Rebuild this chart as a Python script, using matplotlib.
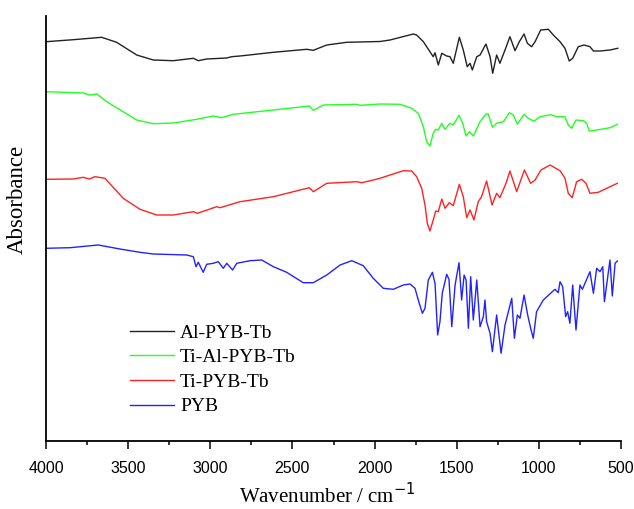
import matplotlib
matplotlib.use("Agg")
import matplotlib.pyplot as plt
from matplotlib.ticker import MultipleLocator

# wavenumber (cm-1) / absorbance (offset a.u.)
al_w = [4000, 3834, 3661, 3570, 3448, 3347, 3225, 3103, 3073, 3022, 2900, 2870, 2819, 2616, 2413,
        2373, 2291, 2170, 1967, 1906, 1764, 1744, 1703, 1663, 1643, 1632, 1612, 1591, 1561, 1541,
        1521, 1484, 1460, 1436, 1419, 1405, 1378, 1358, 1322, 1297, 1281, 1257, 1237, 1206, 1176,
        1145, 1119, 1090, 1070, 1044, 1023, 989, 942, 912, 871, 841, 815, 794, 760, 725, 689, 668,
        628, 567, 520]
al_a = [3.993, 4.013, 4.037, 3.987, 3.86, 3.81, 3.803, 3.827, 3.803, 3.82, 3.83, 3.843, 3.85, 3.887,
        3.917, 3.907, 3.96, 3.987, 3.995, 4.01, 4.07, 4.06, 3.993, 3.893, 3.843, 3.883, 3.76, 3.877,
        3.85, 3.843, 3.777, 4.037, 3.91, 3.743, 3.777, 3.71, 3.843, 3.86, 3.97, 3.843, 3.677, 3.86,
        3.777, 3.91, 4.043, 3.903, 3.993, 4.07, 3.977, 3.943, 3.993, 4.11, 4.117, 4.06, 3.993, 3.927,
        3.80, 3.827, 3.943, 3.96, 3.943, 3.90, 3.90, 3.91, 3.927]

tial_w = [4000, 3773, 3736, 3691, 3630, 3448, 3347, 3225, 3083, 2982, 2931, 2860, 2616, 2397, 2373,
          2312, 2109, 2089, 1967, 1845, 1774, 1734, 1703, 1683, 1663, 1643, 1628, 1612, 1591, 1571,
          1541, 1521, 1486, 1464, 1443, 1423, 1399, 1358, 1322, 1308, 1283, 1257, 1216, 1180, 1155,
          1131, 1090, 1064, 1030, 993, 928, 891, 841, 821, 800, 774, 729, 709, 693, 648, 567, 522]
tial_a = [3.493, 3.48, 3.46, 3.47, 3.393, 3.21, 3.173, 3.18, 3.217, 3.25, 3.233, 3.267, 3.31, 3.35,
          3.307, 3.36, 3.367, 3.357, 3.37, 3.367, 3.327, 3.277, 3.143, 2.993, 2.95, 3.077, 3.117,
          3.11, 3.177, 3.117, 3.177, 3.16, 3.257, 3.177, 3.05, 3.093, 3.05, 3.193, 3.27, 3.27,
          3.137, 3.177, 3.193, 3.283, 3.26, 3.167, 3.267, 3.227, 3.197, 3.243, 3.263, 3.243, 3.243,
          3.16, 3.127, 3.21, 3.203, 3.177, 3.10, 3.11, 3.133, 3.167]

ti_w = [4000, 3834, 3773, 3736, 3702, 3641, 3530, 3428, 3326, 3225, 3103, 3079, 2961, 2941, 2819,
        2616, 2397, 2373, 2291, 2109, 2078, 2008, 1967, 1906, 1825, 1774, 1744, 1713, 1693, 1679,
        1663, 1643, 1628, 1612, 1591, 1571, 1545, 1521, 1484, 1460, 1439, 1419, 1395, 1369, 1349,
        1318, 1285, 1257, 1237, 1200, 1176, 1135, 1088, 1050, 1023, 987, 932, 871, 841, 821, 797,
        770, 739, 713, 689, 638, 587, 522]
ti_a = [2.617, 2.62, 2.637, 2.62, 2.643, 2.627, 2.427, 2.317, 2.26, 2.26, 2.293, 2.277, 2.343, 2.333,
        2.393, 2.443, 2.533, 2.493, 2.577, 2.593, 2.583, 2.61, 2.627, 2.66, 2.703, 2.70, 2.643, 2.527,
        2.36, 2.177, 2.10, 2.21, 2.30, 2.293, 2.42, 2.327, 2.383, 2.353, 2.567, 2.443, 2.233, 2.31,
        2.21, 2.393, 2.443, 2.60, 2.36, 2.477, 2.433, 2.577, 2.70, 2.493, 2.71, 2.577, 2.61, 2.71,
        2.76, 2.703, 2.627, 2.477, 2.433, 2.593, 2.617, 2.577, 2.477, 2.487, 2.527, 2.577]

pyb_w = [4000, 3854, 3682, 3550, 3428, 3347, 3144, 3103, 3087, 3073, 3043, 3022, 2982, 2951, 2921,
         2900, 2864, 2839, 2758, 2687, 2616, 2535, 2434, 2373, 2291, 2210, 2139, 2069, 2008, 1947,
         1906, 1886, 1825, 1784, 1754, 1728, 1709, 1693, 1673, 1648, 1632, 1616, 1602, 1588, 1561,
         1547, 1530, 1510, 1486, 1470, 1455, 1443, 1429, 1415, 1399, 1378, 1358, 1338, 1328, 1318,
         1297, 1283, 1257, 1230, 1206, 1165, 1149, 1131, 1115, 1090, 1068, 1050, 1034, 1014, 973,
         902, 882, 871, 855, 837, 825, 811, 794, 774, 750, 735, 689, 668, 648, 628, 611, 601, 567,
         553, 536, 522]
pyb_a = [1.927, 1.933, 1.96, 1.92, 1.887, 1.87, 1.86, 1.843, 1.743, 1.787, 1.687, 1.767, 1.777, 1.793,
         1.727, 1.777, 1.71, 1.777, 1.803, 1.81, 1.743, 1.687, 1.583, 1.583, 1.66, 1.76, 1.803, 1.753,
         1.627, 1.527, 1.52, 1.517, 1.56, 1.57, 1.527, 1.377, 1.277, 1.327, 1.61, 1.687, 1.577, 1.06,
         1.193, 1.477, 1.667, 1.617, 1.143, 1.56, 1.783, 1.41, 1.66, 1.61, 1.127, 1.643, 1.21, 1.61,
         1.143, 1.243, 1.41, 1.193, 1.077, 0.893, 1.26, 0.877, 1.16, 1.427, 1.027, 1.26, 1.227, 1.46,
         1.26, 1.127, 1.027, 1.293, 1.41, 1.517, 1.483, 1.593, 1.543, 1.243, 1.293, 1.177, 1.56, 1.11,
         1.56, 1.517, 1.693, 1.477, 1.727, 1.693, 1.743, 1.393, 1.81, 1.45, 1.777, 1.80]

labels = ["Al-PYB-Tb", "Ti-Al-PYB-Tb", "Ti-PYB-Tb", "PYB"]
colors = ["#222222", "#22ff22", "#ff2222", "#2222ff"]

SERIF = ["Liberation Serif", "DejaVu Serif"]
SANS = ["Liberation Sans", "DejaVu Sans"]

fig = plt.figure(figsize=(6.34, 5.09), dpi=100)
ax = fig.add_axes([46/634, 1 - 441/509, 575/634, 425/509])

for (w, a), lab, c in zip([(al_w, al_a), (tial_w, tial_a), (ti_w, ti_a), (pyb_w, pyb_a)],
                          labels, colors):
    ax.plot(w, a, color=c, lw=1.0, label=lab)

ax.set_xlim(4000, 500)
ax.set_ylim(0, 4.25)
ax.spines[["top", "right"]].set_visible(False)
for s in ["left", "bottom"]:
    ax.spines[s].set_linewidth(1.3)
ax.set_yticks([])
ax.xaxis.set_major_locator(MultipleLocator(500))
ax.xaxis.set_minor_locator(MultipleLocator(250))
ax.tick_params(axis="x", which="major", direction="out", length=5.5, width=1.1, labelsize=11.5, pad=9)
ax.tick_params(axis="x", which="minor", direction="out", length=3, width=1.1)
for t in ax.get_xticklabels():
    t.set_family(SANS)

ax.set_xlabel("Wavenumber / cm$^{-1}$", family=SERIF, fontsize=15)
ax.xaxis.set_label_coords(0.49, -0.1)
ax.set_ylabel("Absorbance", family=SERIF, fontsize=16.5)
ax.yaxis.set_label_coords(-0.031, 0.569)

leg = ax.legend(loc="upper left", bbox_to_anchor=(130/634, 1 - 324/509), bbox_transform=fig.transFigure,
                frameon=False, borderpad=0, borderaxespad=0, handlelength=2.27, handletextpad=0.3,
                labelspacing=0.36, prop={"family": SERIF, "size": 14})

fig.savefig("out.png", dpi=100)
